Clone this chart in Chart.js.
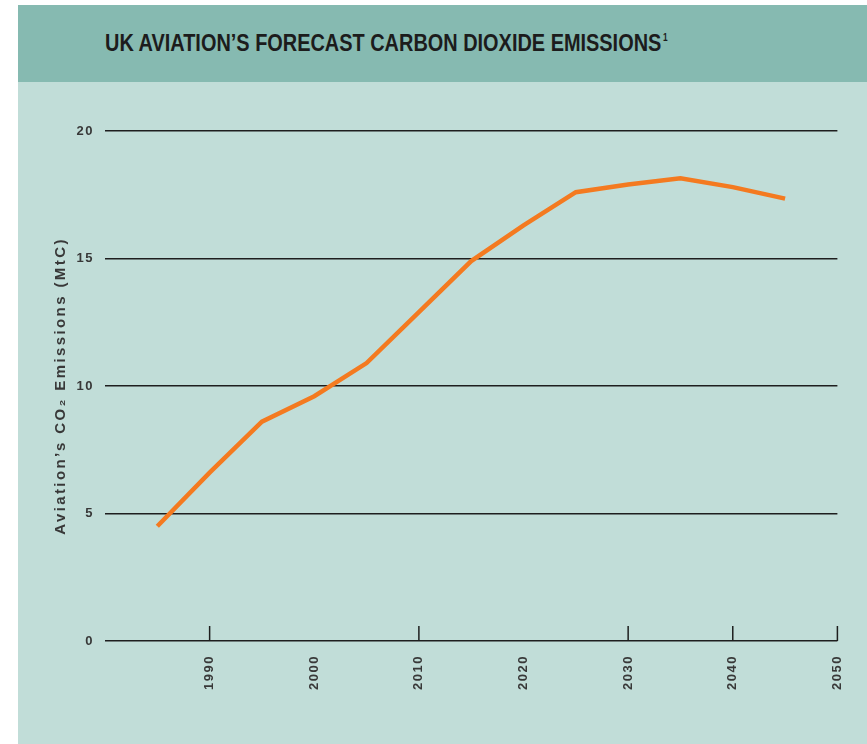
<!DOCTYPE html>
<html>
<head>
<meta charset="utf-8">
<script src="https://cdn.jsdelivr.net/npm/chart.js@4.4.0/dist/chart.umd.min.js"></script>
<style>
html,body{margin:0;padding:0;background:#fff;width:867px;height:744px;overflow:hidden}
#header{position:absolute;left:18px;top:5px;width:849px;height:77px;background:#86bab1}
#title{position:absolute;left:87px;top:24px;font:bold 24px "Liberation Sans",Arial,sans-serif;color:#1c1c1c;white-space:nowrap;transform:scaleX(0.83);transform-origin:0 50%}
#title sup{font-size:10px;vertical-align:top;position:relative;top:3px;margin-left:2px}
#panel{position:absolute;left:18px;top:82px;width:849px;height:662px;background:#c1ddd8}
#c{display:block}
</style>
</head>
<body>
<div id="header"><div id="title">UK AVIATION’S FORECAST CARBON DIOXIDE EMISSIONS<sup>1</sup></div></div>
<div id="panel"><canvas id="c" width="849" height="662"></canvas></div>
<script>
// Data
const years = [1985, 1990, 1995, 2000, 2005, 2010, 2015, 2020, 2025, 2030, 2035, 2040, 2045];
const emissions = [4.5, 6.6, 8.6, 9.6, 10.9, 12.9, 14.9, 16.3, 17.6, 17.9, 18.15, 17.8, 17.35];
const yTicks = [0, 5, 10, 15, 20];
const xLabelYears = [1990, 2000, 2010, 2020, 2030, 2040, 2050];
const markedTickYears = [1990, 2010, 2030, 2040, 2050];
const yAxisTitle = 'Aviation’s CO₂ Emissions (MtC)';

const spacing = {
  id: 'spacing',
  beforeLayout(chart) { chart.ctx.letterSpacing = '1.5px'; },
  beforeDraw(chart) { chart.ctx.letterSpacing = '1.5px'; }
};

const tickMarks = {
  id: 'tickMarks',
  afterDatasetsDraw(chart) {
    const x = chart.scales.x, ctx = chart.ctx, bottom = chart.chartArea.bottom;
    ctx.save();
    ctx.strokeStyle = '#1e1e1e';
    ctx.lineWidth = 1.5;
    markedTickYears.forEach(v => {
      const px = x.getPixelForValue(v);
      ctx.beginPath();
      ctx.moveTo(px, bottom);
      ctx.lineTo(px, bottom - 15);
      ctx.stroke();
    });
    ctx.restore();
  }
};

new Chart(document.getElementById('c'), {
  type: 'line',
  data: {
    datasets: [{
      data: years.map((y, i) => ({x: y, y: emissions[i]})),
      borderColor: '#f47a20',
      borderWidth: 4.5,
      pointRadius: 0,
      tension: 0,
      fill: false
    }]
  },
  options: {
    responsive: false,
    animation: false,
    devicePixelRatio: 1,
    layout: {padding: {left: 30, top: 49, right: 29, bottom: 0}},
    plugins: {legend: {display: false}, tooltip: {enabled: false}},
    scales: {
      x: {
        type: 'linear',
        min: 1980,
        max: 2050,
        afterBuildTicks(scale) {
          scale.ticks = [1980].concat(xLabelYears).map(v => ({value: v}));
        },
        afterFit(scale) { scale.height = 103; },
        grid: {drawOnChartArea: false, drawTicks: false},
        border: {display: false},
        ticks: {
          callback: v => (xLabelYears.includes(v) ? String(v) : ''),
          minRotation: 90,
          maxRotation: 90,
          padding: 14,
          color: '#383838',
          font: {family: 'Liberation Sans, Arial, sans-serif', size: 13, weight: 'bold'}
        }
      },
      y: {
        min: 0,
        max: 20,
        afterBuildTicks(scale) {
          scale.ticks = yTicks.map(v => ({value: v}));
        },
        afterFit(scale) {
          scale.width = 57;
          scale.drawTitle = function () {
            const ctx = this.ctx, prev = ctx.letterSpacing;
            ctx.letterSpacing = '2.4px';
            Chart.Scale.prototype.drawTitle.call(this);
            ctx.letterSpacing = prev;
          };
        },
        grid: {color: '#1e1e1e', lineWidth: 1.5, drawTicks: false},
        border: {display: false},
        ticks: {
          padding: 11,
          color: '#383838',
          font: {family: 'Liberation Sans, Arial, sans-serif', size: 13, weight: 'bold'}
        },
        title: {
          display: true,
          text: yAxisTitle,
          color: '#383838',
          padding: {top: 4, bottom: 0},
          font: {family: 'Liberation Sans, Arial, sans-serif', size: 15, weight: 'bold'}
        }
      }
    }
  },
  plugins: [spacing, tickMarks]
});
</script>
</body>
</html>
